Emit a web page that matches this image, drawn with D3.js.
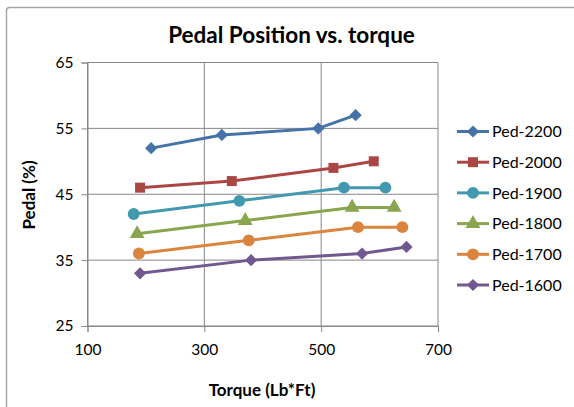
<!DOCTYPE html>
<html>
<head>
<meta charset="utf-8">
<script src="https://cdn.jsdelivr.net/npm/d3@7"></script>
<style>
  body { margin: 0; background: #fff; }
  text { font-family: Lato, "Open Sans", sans-serif; fill: #000; }
</style>
</head>
<body>
<svg id="chart" width="574" height="407"></svg>
<script>
// series data (torque, pedal %)
var seriesNames = ['Ped-2200', 'Ped-2000', 'Ped-1900', 'Ped-1800', 'Ped-1700', 'Ped-1600'];
var torque2200 = [209, 330, 495, 559];
var pedal2200 = [52, 54, 55, 57];
var torque2000 = [190, 347, 521, 590];
var pedal2000 = [46, 47, 49, 50];
var torque1900 = [179, 360, 539, 610];
var pedal1900 = [42, 44, 46, 46];
var torque1800 = [185, 370, 553, 625];
var pedal1800 = [39, 41, 43, 43];
var torque1700 = [188, 376, 563, 639];
var pedal1700 = [36, 38, 40, 40];
var torque1600 = [190, 380, 570, 646];
var pedal1600 = [33, 35, 36, 37];
var xTicks = [100, 300, 500, 700];
var yTicks = [25, 35, 45, 55, 65];

var colors = ['#4572A7', '#AA4643', '#4198AF', '#89A54E', '#DB843D', '#71588F'];
// diamonds are drawn as squares turned 45 degrees
var shapes = [d3.symbolSquare, d3.symbolSquare, d3.symbolCircle, d3.symbolTriangle, d3.symbolCircle, d3.symbolSquare];
var turns = [45, 0, 0, 0, 0, 45];
var shapeSizes = [75, 100, 110, 95, 110, 75];

var xs = [torque2200, torque2000, torque1900, torque1800, torque1700, torque1600];
var ys = [pedal2200, pedal2000, pedal1900, pedal1800, pedal1700, pedal1600];
var series = seriesNames.map(function(name, i) {
  return {
    name: name,
    values: xs[i].map(function(x, j) { return {x: x, y: ys[i][j]}; })
  };
});

var svg = d3.select('#chart');

// outer chart border
svg.append('rect')
  .attr('x', 6.5).attr('y', 7.5)
  .attr('width', 600).attr('height', 500)
  .attr('rx', 3)
  .attr('fill', 'none')
  .attr('stroke', '#a6a6a6')
  .attr('stroke-width', 1.5);

var plot = {left: 87.5, right: 438, top: 62.5, bottom: 326};

var x = d3.scaleLinear().domain([100, 700]).range([plot.left, plot.right]);
var y = d3.scaleLinear().domain([25, 65]).range([plot.bottom, plot.top]);

var grid = svg.append('g');
grid.selectAll('line.h').data(yTicks).enter()
  .append('line')
    .attr('x1', plot.left).attr('x2', plot.right)
    .attr('y1', function(d) { return y(d); })
    .attr('y2', function(d) { return y(d); })
    .attr('stroke', '#878787').attr('stroke-width', 1);
grid.selectAll('line.v').data(xTicks).enter()
  .append('line')
    .attr('y1', plot.top).attr('y2', plot.bottom)
    .attr('x1', function(d) { return x(d); })
    .attr('x2', function(d) { return x(d); })
    .attr('stroke', '#878787').attr('stroke-width', 1);

var xAxis = svg.append('g')
  .attr('transform', 'translate(0,' + plot.bottom + ')')
  .call(d3.axisBottom(x).tickValues(xTicks).tickSize(6).tickPadding(12));
var yAxis = svg.append('g')
  .attr('transform', 'translate(' + plot.left + ',0)')
  .call(d3.axisLeft(y).tickValues(yTicks).tickSize(6).tickPadding(8));

[xAxis, yAxis].forEach(function(ax) {
  ax.select('.domain').attr('stroke', '#878787');
  ax.selectAll('.tick line').attr('stroke', '#878787');
  ax.selectAll('.tick text')
    .style('font-family', 'Lato, sans-serif')
    .style('font-size', '15.5px')
    .attr('fill', '#000');
});

var line = d3.line()
  .x(function(d) { return x(d.x); })
  .y(function(d) { return y(d.y); });

function marker(i) {
  return d3.symbol().type(shapes[i]).size(shapeSizes[i]);
}

series.forEach(function(s, i) {
  var g = svg.append('g');
  g.append('path')
    .datum(s.values)
    .attr('d', line)
    .attr('fill', 'none')
    .attr('stroke', colors[i])
    .attr('stroke-width', 3);
  g.selectAll('path.pt').data(s.values).enter()
    .append('path')
      .attr('d', marker(i))
      .attr('transform', function(d) {
        return 'translate(' + x(d.x) + ',' + y(d.y) + ') rotate(' + turns[i] + ')';
      })
      .attr('fill', colors[i]);
});

// legend
var legend = svg.append('g');
series.forEach(function(s, i) {
  var ly = 131.5 + i * 30.7;
  legend.append('line')
    .attr('x1', 457).attr('x2', 489)
    .attr('y1', ly).attr('y2', ly)
    .attr('stroke', colors[i]).attr('stroke-width', 3);
  legend.append('path')
    .attr('d', marker(i))
    .attr('transform', 'translate(473,' + ly + ') rotate(' + turns[i] + ')')
    .attr('fill', colors[i]);
  legend.append('text')
    .attr('x', 492).attr('y', ly)
    .attr('dy', '0.35em')
    .style('font-size', '16px')
    .text(s.name);
});

// titles
svg.append('text')
  .attr('x', 291.5).attr('y', 43)
  .attr('text-anchor', 'middle')
  .style('font-size', '22.5px').style('font-weight', 'bold')
  .text('Pedal Position vs. torque');
svg.append('text')
  .attr('x', 262).attr('y', 396)
  .attr('text-anchor', 'middle')
  .style('font-size', '17px').style('font-weight', 'bold')
  .text('Torque (Lb*Ft)');
svg.append('text')
  .attr('transform', 'translate(35,195) rotate(-90)')
  .attr('text-anchor', 'middle')
  .style('font-size', '17px').style('font-weight', 'bold')
  .text('Pedal (%)');
</script>
</body>
</html>
